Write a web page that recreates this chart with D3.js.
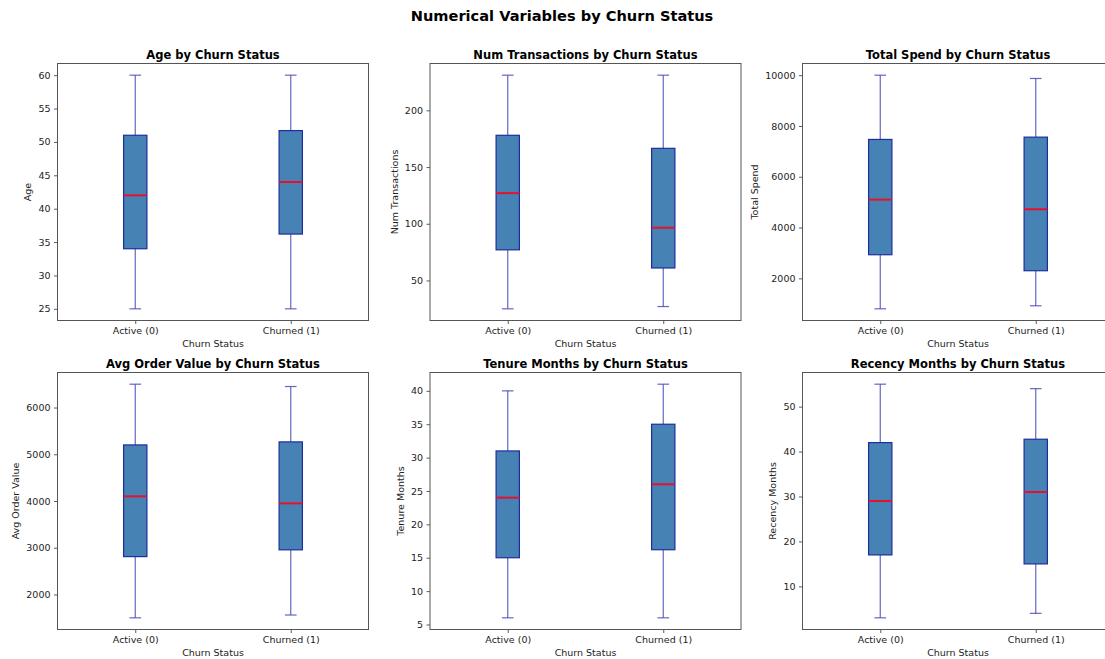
<!DOCTYPE html>
<html>
<head>
<meta charset="utf-8">
<script src="https://cdn.jsdelivr.net/npm/d3@7"></script>
<style>
  body { margin: 0; background: #fff; }
  svg { font-family: "DejaVu Sans", sans-serif; display: block; }
</style>
</head>
<body>
<svg id="chart" width="1105" height="659"></svg>
<script>
// categories on the x axis
var groups = ["Active (0)", "Churned (1)"]

// one panel per variable
var variables = ["Age", "Num Transactions", "Total Spend", "Avg Order Value", "Tenure Months", "Recency Months"]

// five-number summaries: [whisker low, Q1, median, Q3, whisker high]
var ageStats = [[25, 34, 42, 51, 60], [25, 36.2, 44, 51.7, 60]]
var transStats = [[25, 77, 127, 178, 231], [27, 61, 96.5, 166.5, 231]]
var spendStats = [[800, 2930, 5100, 7470, 10000], [920, 2300, 4720, 7560, 9870]]
var orderStats = [[1500, 2810, 4100, 5200, 6500], [1560, 2955, 3950, 5265, 6450]]
var tenureStats = [[6, 15, 24, 31, 40], [6, 16.2, 26, 35, 41]]
var recencyStats = [[3, 17, 29, 42, 55], [4, 15, 31, 42.75, 54]]

// y tick values per panel
var ageTicks = [25, 30, 35, 40, 45, 50, 55, 60]
var transTicks = [50, 100, 150, 200]
var spendTicks = [2000, 4000, 6000, 8000, 10000]
var orderTicks = [2000, 3000, 4000, 5000, 6000]
var tenureTicks = [5, 10, 15, 20, 25, 30, 35, 40]
var recencyTicks = [10, 20, 30, 40, 50]

var allStats = [ageStats, transStats, spendStats, orderStats, tenureStats, recencyStats]
var allTicks = [ageTicks, transTicks, spendTicks, orderTicks, tenureTicks, recencyTicks]

var svg = d3.select("#chart")

svg.append("text")
  .attr("x", 562)
  .attr("y", 21)
  .attr("text-anchor", "middle")
  .style("font-size", "14.6px")
  .style("font-weight", "bold")
  .text("Numerical Variables by Churn Status")

var colLeft = [57.5, 430, 802.5]
var rowTop = [63.5, 372.5]
var w = 311, h = 257

variables.forEach(function (name, i) {
  var stats = allStats[i]
  var col = i % 3, row = Math.floor(i / 3)
  var g = svg.append("g").attr("transform", "translate(" + colLeft[col] + "," + rowTop[row] + ")")

  // matplotlib-style 5% margin around the data
  var lo = d3.min(stats, function (d) { return d[0] })
  var hi = d3.max(stats, function (d) { return d[4] })
  var pad = (hi - lo) * 0.05
  var y = d3.scaleLinear().domain([lo - pad, hi + pad]).range([h, 0])
  var x = d3.scaleLinear().domain([0.5, 2.5]).range([0, w])
  var bw = x(1.075) - x(0.925)
  var cw = x(1.0375) - x(0.9625)

  g.append("rect")
    .attr("width", w).attr("height", h)
    .attr("fill", "#fff")

  stats.forEach(function (s, j) {
    var cx = x(j + 1)
    var wh = "#3f3fb5"
    // whiskers
    g.append("line").attr("x1", cx).attr("x2", cx).attr("y1", y(s[0])).attr("y2", y(s[1]))
      .attr("stroke", wh).attr("stroke-width", 1.2).attr("stroke-opacity", 0.8)
    g.append("line").attr("x1", cx).attr("x2", cx).attr("y1", y(s[3])).attr("y2", y(s[4]))
      .attr("stroke", wh).attr("stroke-width", 1.2).attr("stroke-opacity", 0.8)
    // caps
    g.append("line").attr("x1", cx - cw / 2).attr("x2", cx + cw / 2).attr("y1", y(s[0])).attr("y2", y(s[0]))
      .attr("stroke", wh).attr("stroke-width", 1.2).attr("stroke-opacity", 0.8)
    g.append("line").attr("x1", cx - cw / 2).attr("x2", cx + cw / 2).attr("y1", y(s[4])).attr("y2", y(s[4]))
      .attr("stroke", wh).attr("stroke-width", 1.2).attr("stroke-opacity", 0.8)
    // box
    g.append("rect")
      .attr("x", cx - bw / 2).attr("y", y(s[3]))
      .attr("width", bw).attr("height", y(s[1]) - y(s[3]))
      .attr("fill", "#4682B4")
      .attr("stroke", "#1f2d9c").attr("stroke-width", 1.2)
    // median
    g.append("line").attr("x1", cx - bw / 2).attr("x2", cx + bw / 2).attr("y1", y(s[2])).attr("y2", y(s[2]))
      .attr("stroke", "#e8112d").attr("stroke-width", 2)
  })

  var yAxis = g.append("g")
    .call(d3.axisLeft(y).tickValues(allTicks[i]).tickSize(3.5).tickPadding(3.5).tickFormat(d3.format("d")))
  var xAxis = g.append("g").attr("transform", "translate(0," + h + ")")
    .call(d3.axisBottom(x).tickValues([1, 2]).tickSize(3.5).tickPadding(3)
      .tickFormat(function (d) { return groups[d - 1] }))

  ;[yAxis, xAxis].forEach(function (a) {
    a.select(".domain").remove()
    a.selectAll("line").attr("stroke", "#333").attr("stroke-width", 0.8)
    a.selectAll("text").attr("fill", "#222").style("font-size", "9.5px").style("font-family", "DejaVu Sans")
  })

  // frame
  g.append("rect")
    .attr("width", w).attr("height", h)
    .attr("fill", "none").attr("stroke", "#555").attr("stroke-width", 1)

  g.append("text")
    .attr("x", w / 2).attr("y", -5)
    .attr("text-anchor", "middle")
    .style("font-size", "11.5px").style("font-weight", "bold")
    .text(name + " by Churn Status")

  g.append("text")
    .attr("x", w / 2).attr("y", h + 26.5)
    .attr("text-anchor", "middle")
    .style("font-size", "9.5px").attr("fill", "#222")
    .text("Churn Status")

  var tw = yAxis.node().getBBox().width
  g.append("text")
    .attr("transform", "translate(" + (-tw - 7) + "," + (h / 2) + ") rotate(-90)")
    .attr("text-anchor", "middle")
    .style("font-size", "9.5px").attr("fill", "#222")
    .text(name)
})
</script>
</body>
</html>
